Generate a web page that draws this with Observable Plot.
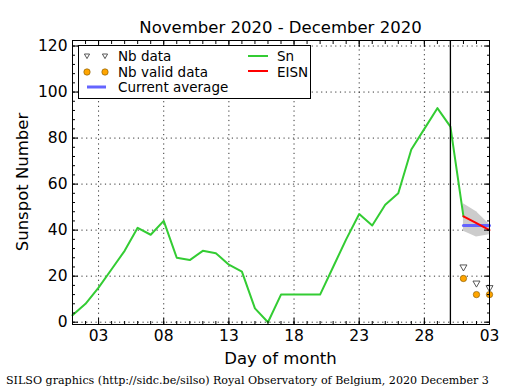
<!DOCTYPE html>
<html><head><meta charset="utf-8">
<script src="https://cdn.jsdelivr.net/npm/d3@7"></script>
<script src="https://cdn.jsdelivr.net/npm/@observablehq/plot@0.6"></script>
<style>body{margin:0;background:#fff;} svg{display:block;}</style>
</head><body><div id="chart"></div>
<script>
const snDays = ["2020-11-01","2020-11-02","2020-11-03","2020-11-04","2020-11-05","2020-11-06","2020-11-07","2020-11-08","2020-11-09","2020-11-10","2020-11-11","2020-11-12","2020-11-13","2020-11-14","2020-11-15","2020-11-16","2020-11-17","2020-11-18","2020-11-19","2020-11-20","2020-11-21","2020-11-22","2020-11-23","2020-11-24","2020-11-25","2020-11-26","2020-11-27","2020-11-28","2020-11-29","2020-11-30","2020-12-01"];
const snValues = [3,8,15,23,31,41,38,44,28,27,31,30,25,22,6,0,12,12,12,12,24,36,47,42,51,56,75,84,93,85,46];
const eisnDays = ["2020-12-01","2020-12-02","2020-12-03"];
const eisnValues = [46,43,40];
const eisnLow = [39.5,37,38];
const eisnHigh = [51.5,48,42.5];
const currentAverage = 42;
const nbData = [24,17,15];
const nbValid = [19,12,12];
const xTickDays = ["2020-11-03","2020-11-08","2020-11-13","2020-11-18","2020-11-23","2020-11-28","2020-12-03"];
const yTicks = [0,20,40,60,80,100,120];
const todayLine = "2020-11-30";
const xDomain = ["2020-11-01","2020-12-03"];
const yDomain = [-1, 122.4];
const titleText = "November 2020 - December 2020";
const xLabel = "Day of month";
const yLabel = "Sunspot Number";
const caption = "SILSO graphics (http://sidc.be/silso) Royal Observatory of Belgium, 2020 December 3";
const legendLabels = ["Nb data","Nb valid data","Current average","Sn","EISN"];

const P = s => new Date(s + "T00:00:00Z");
const sn = snDays.map((d,i)=>({date:P(d), v:snValues[i]}));
const eisn = eisnDays.map((d,i)=>({date:P(d), v:eisnValues[i], lo:eisnLow[i], hi:eisnHigh[i], nb:nbData[i], nbv:nbValid[i]}));
const xt = xTickDays.map(P);
const minorX = d3.utcDay.range(P(xDomain[0]), d3.utcDay.offset(P(xDomain[1]),1));
const minorY = d3.range(0, 122, 4);

const W=515,H=390, mL=72, mR=26, mT=40, mB=66;
const green="#33cc33", red="#ff0000", blue="#6464ff", orange="#ffa500";

const plot = Plot.plot({
  width: W, height: H,
  marginLeft: mL, marginRight: mR, marginTop: mT, marginBottom: mB,
  style: {fontFamily: "DejaVu Sans", fontSize: "15px", color: "black", background: "white"},
  x: {type: "utc", domain: xDomain.map(P)},
  y: {domain: yDomain},
  marks: [
    Plot.gridX(xt, {stroke: "black", strokeOpacity: 1, strokeWidth: 0.8, strokeDasharray: "1.2,3.5"}),
    Plot.gridY(yTicks, {stroke: "black", strokeOpacity: 1, strokeWidth: 0.8, strokeDasharray: "1.2,3.5"}),
    Plot.areaY(eisn, {x: "date", y1: "lo", y2: "hi", fill: "#cccccc", fillOpacity: 1}),
    Plot.lineY(sn, {x: "date", y: "v", stroke: green, strokeWidth: 2}),
    Plot.lineY(eisn, {x: "date", y: () => currentAverage, stroke: blue, strokeWidth: 3}),
    Plot.lineY(eisn, {x: "date", y: "v", stroke: red, strokeWidth: 2}),
    Plot.ruleX([P(todayLine)], {stroke: "black", strokeWidth: 1.3}),
    Plot.dot(eisn, {x: "date", y: "nb", symbol: "triangle", rotate: 180, r: 2.6, fill: "white", stroke: "#444", strokeWidth: 0.9}),
    Plot.dot(eisn, {x: "date", y: "nbv", r: 3.2, fill: orange, stroke: "#7a5200", strokeWidth: 0.6}),
    Plot.axisX(xt, {anchor: "bottom", tickSize: 0, tickPadding: 5, tickFormat: d3.utcFormat("%d"), label: null, fontSize: 15.5}),
    Plot.axisX(xt, {anchor: "bottom", tickSize: -6, text: null, label: null}),
    Plot.axisX(xt, {anchor: "top", tickSize: -6, text: null, label: null}),
    Plot.axisX(minorX, {anchor: "bottom", tickSize: -3, text: null, label: null}),
    Plot.axisX(minorX, {anchor: "top", tickSize: -3, text: null, label: null}),
    Plot.axisY(yTicks, {anchor: "left", tickSize: 0, tickPadding: 5, label: null, fontSize: 15.5}),
    Plot.axisY(yTicks, {anchor: "left", tickSize: -6, text: null, label: null}),
    Plot.axisY(yTicks, {anchor: "right", tickSize: -6, text: null, label: null}),
    Plot.axisY(minorY, {anchor: "left", tickSize: -3, text: null, label: null}),
    Plot.axisY(minorY, {anchor: "right", tickSize: -3, text: null, label: null}),
    Plot.frame({stroke: "black", strokeWidth: 1})
  ]
});
document.getElementById("chart").appendChild(plot);

const svg = d3.select(plot);
const cx = (mL + (W - mR)) / 2;
svg.append("text").attr("x", cx).attr("y", 33).attr("text-anchor","middle")
  .attr("font-family","DejaVu Sans").attr("font-size",16.5).attr("fill","black").text(titleText);
svg.append("text").attr("x", cx).attr("y", 364).attr("text-anchor","middle")
  .attr("font-family","DejaVu Sans").attr("font-size",16.5).attr("fill","black").text(xLabel);
svg.append("text").attr("transform", `translate(28,${(mT + H - mB)/2}) rotate(-90)`).attr("text-anchor","middle")
  .attr("font-family","DejaVu Sans").attr("font-size",16.5).attr("fill","black").text(yLabel);
svg.append("text").attr("x", 6).attr("y", 384).attr("text-anchor","start")
  .attr("font-family","DejaVu Serif").attr("font-size",11.1).attr("fill","black").text(caption);

// legend
const lg = svg.append("g").attr("font-family","DejaVu Sans").attr("font-size",13.5).attr("text-anchor","start");
lg.append("rect").attr("x",78.5).attr("y",45.5).attr("width",232).attr("height",53).attr("fill","white").attr("stroke","black").attr("stroke-width",1);
const tri = (x,y) => `M${x-2.6},${y-2} L${x+2.6},${y-2} L${x},${y+2.6} Z`;
[87,105].forEach(x => {
  lg.append("path").attr("d", tri(x,56)).attr("fill","white").attr("stroke","#444").attr("stroke-width",0.9);
  lg.append("circle").attr("cx",x).attr("cy",72).attr("r",3.2).attr("fill",orange).attr("stroke","#7a5200").attr("stroke-width",0.6);
});
lg.append("line").attr("x1",87).attr("x2",106).attr("y1",87).attr("y2",87).attr("stroke",blue).attr("stroke-width",3);
lg.append("line").attr("x1",248).attr("x2",268).attr("y1",56).attr("y2",56).attr("stroke",green).attr("stroke-width",2);
lg.append("line").attr("x1",248).attr("x2",268).attr("y1",71).attr("y2",71).attr("stroke",red).attr("stroke-width",2);
const lt = [[118,61,legendLabels[0]],[118,77,legendLabels[1]],[118,92,legendLabels[2]],[277,61,legendLabels[3]],[277,77,legendLabels[4]]];
lt.forEach(([x,y,t]) => lg.append("text").attr("x",x).attr("y",y).attr("text-anchor","start").attr("fill","black").text(t));
</script></body></html>
